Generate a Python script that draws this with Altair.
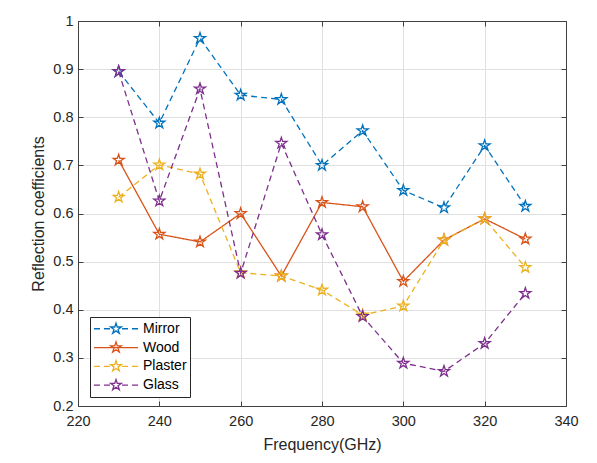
import math
import altair as alt
import pandas as pd

freq = [230, 240, 250, 260, 270, 280, 290, 300, 310, 320, 330]
mirror = [0.895, 0.788, 0.964, 0.846, 0.837, 0.700, 0.772, 0.648, 0.612, 0.741, 0.615]
wood = [0.711, 0.557, 0.541, 0.600, 0.470, 0.623, 0.614, 0.459, 0.545, 0.589, 0.547]
plaster = [0.634, 0.701, 0.682, 0.477, 0.470, 0.441, 0.389, 0.408, 0.545, 0.589, 0.488]
glass = [0.895, 0.626, 0.859, 0.476, 0.746, 0.556, 0.386, 0.289, 0.272, 0.330, 0.434]

series = ["Mirror", "Wood", "Plaster", "Glass"]
values = [mirror, wood, plaster, glass]
styles = ["dashed", "solid", "dashed", "dashed"]
colors = ["#0072BD", "#D95319", "#EDB120", "#7E2F8E"]
x_ticks = [220, 240, 260, 280, 300, 320, 340]
y_ticks = [0.2, 0.3, 0.4, 0.5, 0.6, 0.7, 0.8, 0.9, 1.0]

rows = []
for s, vals, st in zip(series, values, styles):
    for f, v in zip(freq, vals):
        rows.append({"series": s, "freq": f, "value": v, "style": st})
df = pd.DataFrame(rows)


def star(R):
    pts = []
    for k in range(10):
        r = R if k % 2 == 0 else R * 0.382
        a = math.radians(-90 + 36 * k)
        pts.append((r * math.cos(a), r * math.sin(a)))
    return "M" + " L".join(f"{x:.4f},{y:.4f}" for x, y in pts) + " Z"


star_plot = star(1.0)
star_leg = star(0.256)
dashed_leg = "M-1,0 L-0.727,0 M-0.545,0 L-0.273,0 M0.273,0 L0.545,0 M0.727,0 L1,0 " + star_leg
solid_leg = "M-1,0 L1,0 " + star_leg
leg_paths = [dashed_leg if st == "dashed" else solid_leg for st in styles]

FONT = "Liberation Sans"
W, H = 488, 385
BOX = "#404040"
color_scale = alt.Scale(domain=series, range=colors)
xs = alt.Scale(domain=[220, 340], nice=False, zero=False)
ys = alt.Scale(domain=[0.2, 1.0], nice=False, zero=False)

legend_def = alt.Legend(
    title=None, orient="none", legendX=12, legendY=296,
    padding=3, strokeColor="#262626", fillColor="white",
    labelFont=FONT, labelFontSize=14, labelColor="#000000", labelOffset=4,
    clipHeight=17.5, rowPadding=0.8, symbolSize=1936, symbolStrokeWidth=1.3,
)
color_enc = alt.Color("series:N", scale=color_scale, legend=legend_def)

# main axes: labels, titles, grid
x_main = alt.X("freq:Q", scale=xs, axis=alt.Axis(
    values=x_ticks, title="Frequency(GHz)", format="d", labelFlush=False,
    labelPadding=8, titlePadding=9, grid=True, domain=False, ticks=False))
y_main = alt.Y("value:Q", scale=ys, axis=alt.Axis(
    values=y_ticks, title="Reflection coefficients", labelFlush=False,
    labelExpr="datum.value == 1 ? '1' : format(datum.value, '.1f')",
    labelPadding=5, titlePadding=6, grid=True, domain=False, ticks=False))

# inward ticks + box at bottom/left
x_in_bottom = alt.X("freq:Q", scale=xs, axis=alt.Axis(
    orient="top", offset=-H, values=x_ticks, labels=False, title=None,
    grid=False, domain=True, ticks=True, tickSize=5))
y_in_left = alt.Y("value:Q", scale=ys, axis=alt.Axis(
    orient="right", offset=-W, values=y_ticks, labels=False, title=None,
    grid=False, domain=True, ticks=True, tickSize=5))

# inward ticks + box at top/right
x_in_top = alt.X("freq:Q", scale=xs, axis=alt.Axis(
    orient="bottom", offset=-H, values=x_ticks, labels=False, title=None,
    grid=False, domain=True, ticks=True, tickSize=5))
y_in_right = alt.Y("value:Q", scale=ys, axis=alt.Axis(
    orient="left", offset=-W, values=y_ticks, labels=False, title=None,
    grid=False, domain=True, ticks=True, tickSize=5))

lines = alt.Chart(df).mark_line(strokeWidth=1.3).encode(
    x=x_main,
    y=y_main,
    color=color_enc,
    strokeDash=alt.StrokeDash("style:N",
                              scale=alt.Scale(domain=["dashed", "solid"], range=[[6, 4], [1, 0]]),
                              legend=None),
    detail="series:N",
    order="freq:Q",
)

points = alt.Chart(df).mark_point(shape=star_plot, filled=False, size=134,
                                  strokeWidth=1.3, opacity=1).encode(
    x=x_in_bottom,
    y=y_in_left,
    color=color_enc,
)

legend_layer = alt.Chart(df).transform_filter("false").mark_point(
    filled=False, strokeWidth=1.3, opacity=1
).encode(
    x=x_in_top,
    y=y_in_right,
    color=color_enc,
    shape=alt.Shape("series:N", scale=alt.Scale(domain=series, range=leg_paths), legend=legend_def),
)

chart = alt.layer(lines, points, legend_layer).resolve_axis(
    x="independent", y="independent"
).properties(
    width=W, height=H,
    autosize=alt.AutoSizeParams(type="none"),
    padding={"left": 78, "top": 21, "right": 31, "bottom": 57},
    background="white",
).configure_view(
    stroke=None
).configure_axis(
    labelFont=FONT, labelFontSize=14.5, labelColor="#262626",
    titleFont=FONT, titleFontSize=16, titleFontWeight="normal", titleColor="#262626",
    gridColor="#e0e0e0", gridWidth=1,
    domainColor=BOX, domainWidth=1, tickColor=BOX, tickWidth=1,
)

chart.save("out.html", embed_options={"renderer": "svg", "actions": False})
